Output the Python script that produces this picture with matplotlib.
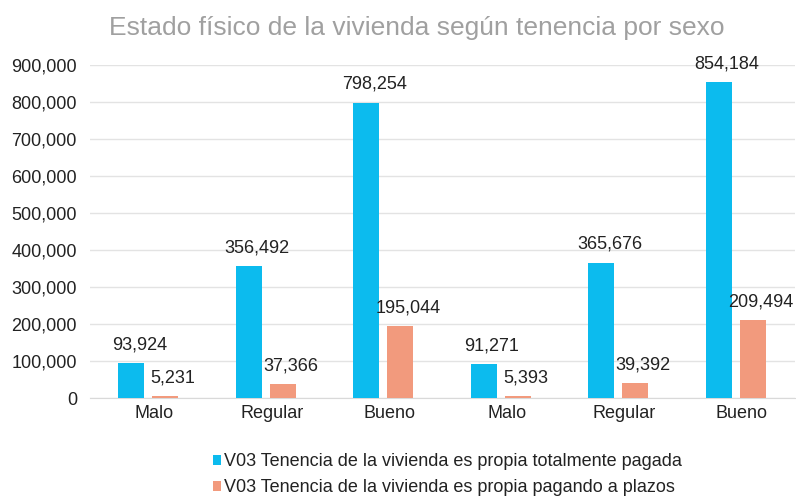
import matplotlib
matplotlib.use("Agg")
import matplotlib.pyplot as plt
import matplotlib.transforms as mtransforms
import numpy as np
from matplotlib.ticker import FuncFormatter

categories = ["Malo", "Regular", "Bueno", "Malo", "Regular", "Bueno"]
pagada = [93924, 356492, 798254, 91271, 365676, 854184]
plazos = [5231, 37366, 195044, 5393, 39392, 209494]
series_names = ["V03 Tenencia de la vivienda es propia totalmente pagada",
                "V03 Tenencia de la vivienda es propia pagando a plazos"]
yticks = [0, 100000, 200000, 300000, 400000, 500000, 600000, 700000, 800000, 900000]

plt.rcParams['font.family'] = ['Liberation Sans', 'DejaVu Sans']

fig = plt.figure(figsize=(7.96, 4.98), dpi=100)
ax = fig.add_axes([89.5 / 796, 0.2008, 705 / 796, 0.6687])

x = np.arange(len(categories))
w = 0.222
off = 0.143
blue = "#0CBBEE"
orange = "#F29A7D"
b1 = ax.bar(x - off, pagada, w, color=blue, label=series_names[0], zorder=3)
b2 = ax.bar(x + off, plazos, w, color=orange, label=series_names[1], zorder=3)

for rects, vals in ((b1, pagada), (b2, plazos)):
    for r, v in zip(rects, vals):
        ax.annotate(f"{v:,}", (r.get_x() + r.get_width() / 2, v),
                    xytext=(5.8, 7), textcoords="offset points",
                    ha="center", va="bottom", fontsize=13, color="#222222")

ax.set_xlim(-0.5, len(categories) - 0.5)
ax.set_ylim(0, 900000)
ax.set_yticks(yticks)
ax.yaxis.set_major_formatter(FuncFormatter(lambda v, p: f"{int(v):,}"))
ax.set_xticks(x)
ax.set_xticklabels(categories)
ax.tick_params(axis="both", length=0, labelsize=13, colors="#222222")
ax.tick_params(axis="x", pad=5)
ax.tick_params(axis="y", pad=9)
shift = mtransforms.ScaledTranslation(6 / 100, 0, fig.dpi_scale_trans)
for lab in ax.get_xticklabels():
    lab.set_transform(lab.get_transform() + shift)
ax.grid(axis="y", color="#E3E3E3", linewidth=1, zorder=0)
for s in ["top", "right", "left"]:
    ax.spines[s].set_visible(False)
ax.spines["bottom"].set_color("#D9D9D9")

fig.suptitle("Estado físico de la vivienda según tenencia por sexo",
             x=0.524, y=0.968, fontsize=19, color="#A0A0A0")

leg = fig.legend(handles=[b1, b2], loc="upper left", bbox_to_anchor=(0.268, 0.09),
                 frameon=False, fontsize=13, handlelength=0.45, handleheight=0.45,
                 handletextpad=0.15, labelspacing=0.5, borderaxespad=0, borderpad=0)
for t in leg.get_texts():
    t.set_color("#222222")

fig.savefig("out.png", dpi=100)
